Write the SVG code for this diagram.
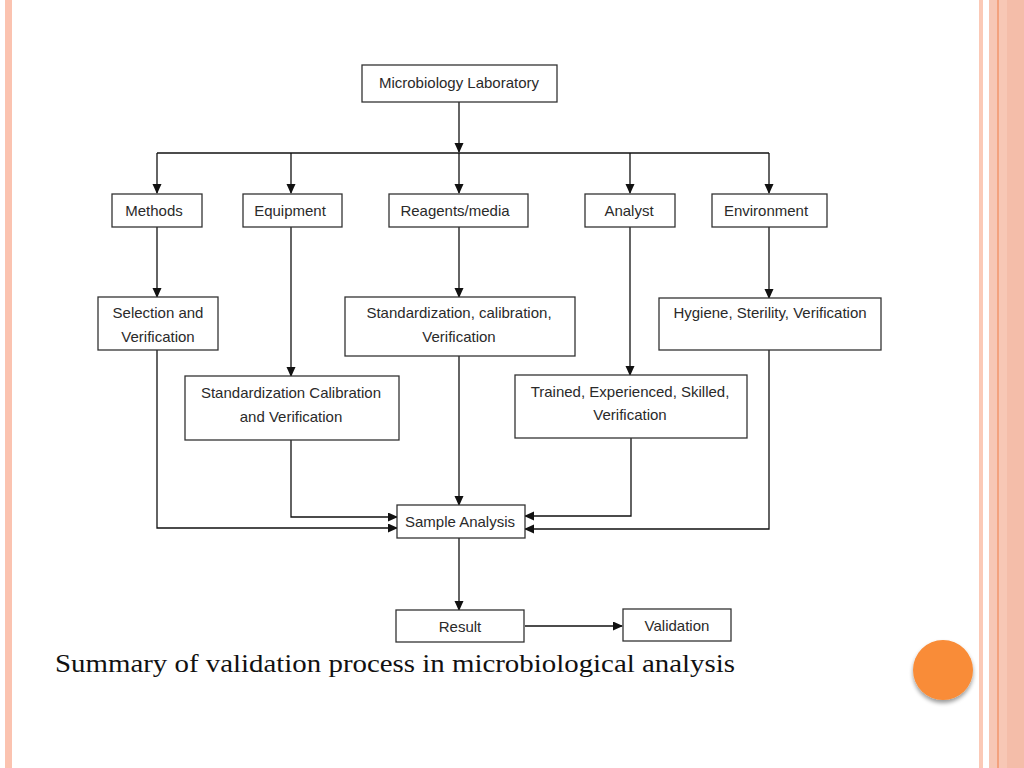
<svg xmlns="http://www.w3.org/2000/svg" width="1024" height="768" viewBox="0 0 1024 768">
<defs>
<style>
.box{fill:#fff;stroke:#333;stroke-width:1.3}
.lbl{font-family:"Liberation Sans",Arial,sans-serif;font-size:15px;fill:#2a2a2a;text-anchor:middle}
.con{fill:none;stroke:#111;stroke-width:1.3}
.cap{font-family:"Liberation Serif","Times New Roman",serif;font-size:26px;fill:#111}
</style>
<marker id="ah" markerWidth="10" markerHeight="10" refX="9" refY="4.5" orient="auto" markerUnits="userSpaceOnUse">
<path d="M0,0 L10,4.5 L0,9 Z" fill="#111"/>
</marker>
<filter id="sh" x="-30%" y="-30%" width="160%" height="170%">
<feGaussianBlur in="SourceAlpha" stdDeviation="2"/>
<feOffset dx="0" dy="3" result="b"/>
<feComponentTransfer><feFuncA type="linear" slope="0.4"/></feComponentTransfer>
<feMerge><feMergeNode/><feMergeNode in="SourceGraphic"/></feMerge>
</filter>
</defs>
<rect width="1024" height="768" fill="#fff"/>
<g id="decor">
<rect x="5" y="0" width="7" height="768" fill="#fbc3b0"/>
<rect x="979" y="0" width="4" height="768" fill="#fbc9b6"/>
<rect x="989" y="0" width="35" height="768" fill="#f7c7b5"/>
<rect x="1007" y="0" width="17" height="768" fill="#f4bda9"/>
<rect x="997" y="0" width="2" height="768" fill="#f3a27e"/>
<circle cx="943" cy="670" r="30" fill="#f98c37" filter="url(#sh)"/>
</g>
<g id="connectors">
<path class="con" d="M459,102 V152" marker-end="url(#ah)"/>
<path class="con" d="M157,153 H769"/>
<path class="con" d="M157,153 V193" marker-end="url(#ah)"/>
<path class="con" d="M291,153 V193" marker-end="url(#ah)"/>
<path class="con" d="M459,153 V193" marker-end="url(#ah)"/>
<path class="con" d="M630,153 V193" marker-end="url(#ah)"/>
<path class="con" d="M769,153 V193" marker-end="url(#ah)"/>
<path class="con" d="M157,227 V297" marker-end="url(#ah)"/>
<path class="con" d="M291,227 V376" marker-end="url(#ah)"/>
<path class="con" d="M459,227 V297" marker-end="url(#ah)"/>
<path class="con" d="M630,227 V375" marker-end="url(#ah)"/>
<path class="con" d="M769,227 V298" marker-end="url(#ah)"/>
<path class="con" d="M157,350 V528 H397" marker-end="url(#ah)"/>
<path class="con" d="M291,440 V517 H397" marker-end="url(#ah)"/>
<path class="con" d="M459,356 V505" marker-end="url(#ah)"/>
<path class="con" d="M631,438 V516 H525" marker-end="url(#ah)"/>
<path class="con" d="M769,350 V529 H525" marker-end="url(#ah)"/>
<path class="con" d="M459,538 V610" marker-end="url(#ah)"/>
<path class="con" d="M525,626 H622" marker-end="url(#ah)"/>
</g>
<g id="n-lab"><rect class="box" x="362" y="65" width="195" height="37"/><text class="lbl" x="459" y="88">Microbiology Laboratory</text></g>
<g id="n-methods"><rect class="box" x="112" y="194" width="90" height="33"/><text class="lbl" x="154" y="216">Methods</text></g>
<g id="n-equipment"><rect class="box" x="243" y="194" width="99" height="33"/><text class="lbl" x="290" y="216">Equipment</text></g>
<g id="n-reagents"><rect class="box" x="389" y="194" width="139" height="33"/><text class="lbl" x="455" y="216">Reagents/media</text></g>
<g id="n-analyst"><rect class="box" x="585" y="194" width="90" height="33"/><text class="lbl" x="629" y="216">Analyst</text></g>
<g id="n-environment"><rect class="box" x="712" y="194" width="115" height="33"/><text class="lbl" x="766" y="216">Environment</text></g>
<g id="n-selection"><rect class="box" x="98" y="297" width="120" height="53"/><text class="lbl" x="158" y="318">Selection and</text><text class="lbl" x="158" y="342">Verification</text></g>
<g id="n-stdcal"><rect class="box" x="345" y="297" width="230" height="59"/><text class="lbl" x="459" y="318">Standardization, calibration,</text><text class="lbl" x="459" y="342">Verification</text></g>
<g id="n-hygiene"><rect class="box" x="659" y="298" width="222" height="52"/><text class="lbl" x="770" y="318">Hygiene, Sterility, Verification</text></g>
<g id="n-stdcal2"><rect class="box" x="185" y="376" width="214" height="64"/><text class="lbl" x="291" y="398">Standardization Calibration</text><text class="lbl" x="291" y="422">and Verification</text></g>
<g id="n-trained"><rect class="box" x="515" y="375" width="232" height="63"/><text class="lbl" x="630" y="397">Trained, Experienced, Skilled,</text><text class="lbl" x="630" y="420">Verification</text></g>
<g id="n-sample"><rect class="box" x="397" y="505" width="128" height="33"/><text class="lbl" x="460" y="527">Sample Analysis</text></g>
<g id="n-result"><rect class="box" x="396" y="610" width="128" height="32"/><text class="lbl" x="460" y="632">Result</text></g>
<g id="n-validation"><rect class="box" x="623" y="609" width="108" height="32"/><text class="lbl" x="677" y="631">Validation</text></g>
<text class="cap" x="55" y="672" textLength="680" lengthAdjust="spacingAndGlyphs">Summary of validation process in microbiological analysis</text>
</svg>
